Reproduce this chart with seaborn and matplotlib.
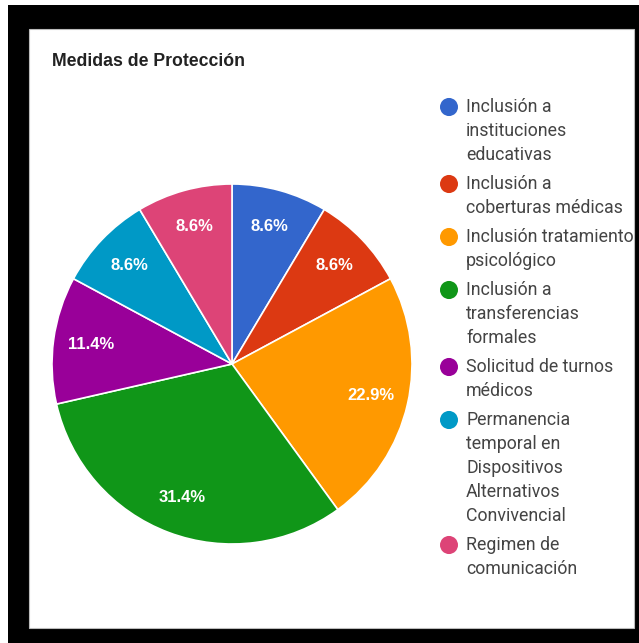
import numpy as np
import pandas as pd
import seaborn as sns
import matplotlib.pyplot as plt
from matplotlib.patches import Rectangle

categories = [
    "Inclusión a instituciones educativas",
    "Inclusión a coberturas médicas",
    "Inclusión tratamiento psicológico",
    "Inclusión a transferencias formales",
    "Solicitud de turnos médicos",
    "Permanencia temporal en Dispositivos Alternativos Convivencial",
    "Regimen de comunicación",
]
legend_lines = [
    ["Inclusión a", "instituciones", "educativas"],
    ["Inclusión a", "coberturas médicas"],
    ["Inclusión tratamiento", "psicológico"],
    ["Inclusión a", "transferencias", "formales"],
    ["Solicitud de turnos", "médicos"],
    ["Permanencia", "temporal en", "Dispositivos", "Alternativos", "Convivencial"],
    ["Regimen de", "comunicación"],
]
counts = [3, 3, 8, 11, 4, 3, 3]
colors = ["#3366cc", "#dc3912", "#ff9900", "#109618", "#990099", "#0099c6", "#dd4477"]

df = pd.DataFrame({"medida": categories, "n": counts})

sns.set_theme(style="white")
plt.rcParams["font.family"] = ["Liberation Sans", "DejaVu Sans"]

W, H = 639, 643
fig = plt.figure(figsize=(W / 100, H / 100), dpi=100)
fig.patch.set_facecolor("white")


def px(x, y):
    return x / W, 1 - y / H


# black frame around white chart card
fig.patches.append(Rectangle((8 / W, 0), 1 - 8 / W, 1 - 5 / H, transform=fig.transFigure,
                             facecolor="black", edgecolor="none", zorder=0))
fig.patches.append(Rectangle((29 / W, 1 - 628 / H), (634 - 29) / W, (628 - 29) / H,
                             transform=fig.transFigure, facecolor="white",
                             edgecolor="#bbbbbb", linewidth=0.8, zorder=1))

cx, cy, r = 232, 364, 180
ax = fig.add_axes([(cx - r) / W, 1 - (cy + r) / H, 2 * r / W, 2 * r / H])
ax.set_zorder(5)
ax.patch.set_visible(False)
wedges, texts, autotexts = ax.pie(
    df["n"], colors=colors, startangle=90, counterclock=False,
    autopct="%1.1f%%", pctdistance=0.79,
    wedgeprops=dict(edgecolor="white", linewidth=1.2),
    textprops=dict(color="white", fontsize=12, fontweight="bold"),
)
ax.set_xlim(-1, 1)
ax.set_ylim(-1, 1)
ax.set_aspect("equal")
ax.axis("off")

fig.text(*px(52, 62), "Medidas de Protección", fontsize=12.7, fontweight="bold",
         color="#222222", va="center", ha="left", zorder=6)

# legend
y = 107
for lines, col in zip(legend_lines, colors):
    fig.patches.append(plt.Circle(px(449, y), 9 / W, transform=fig.transFigure,
                                  facecolor=col, edgecolor="none", zorder=3))
    for ln in lines:
        fig.text(*px(466, y), ln, fontsize=12.8, color="#444444", va="center",
                 ha="left", family=["Roboto", "DejaVu Sans"], zorder=6)
        y += 24
    y += 5

fig.savefig("out.png", dpi=100)
